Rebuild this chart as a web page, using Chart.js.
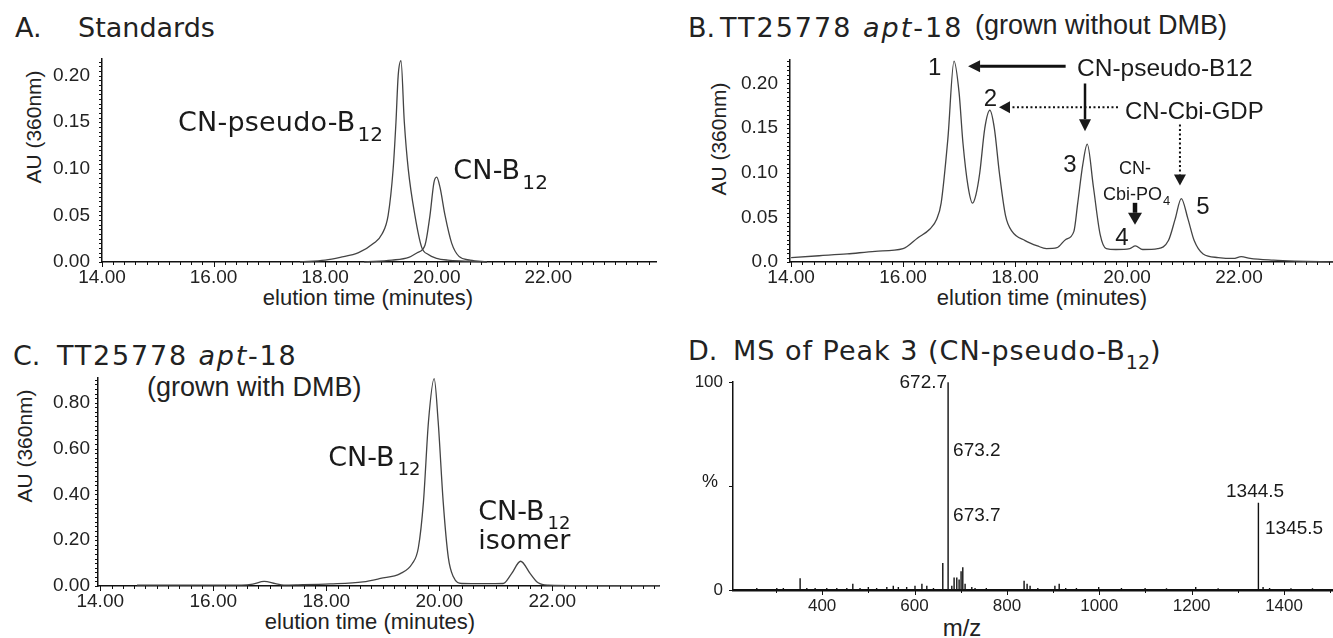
<!DOCTYPE html>
<html>
<head>
<meta charset="utf-8">
<script src="https://cdn.jsdelivr.net/npm/chart.js@4.4.1/dist/chart.umd.min.js"></script>
<style>
body { margin: 0; background: #fff; width: 1333px; height: 638px; overflow: hidden; position: relative; font-family: "Liberation Sans", Arial, sans-serif; color: #222; }
canvas { position: absolute; }
.t { position: absolute; white-space: nowrap; line-height: 1; }
.dj { font-family: "DejaVu Sans"; font-size: 27px; }
.ls { font-family: "Liberation Sans"; font-size: 27px; }
.sb { font-size: 19px; position: relative; top: 9px; letter-spacing: 0; }
.yt { position: absolute; white-space: nowrap; line-height: 1; font-size: 21px; transform: translate(-50%, -50%) rotate(-90deg); }
.xt { position: absolute; white-space: nowrap; line-height: 1; font-size: 22px; transform: translate(-50%, -50%); }
</style>
</head>
<body>
<div class="t dj" style="left:15px;top:14px">A.</div>
<div class="t dj" style="left:78px;top:14px">Standards</div>
<div class="t dj" style="left:688px;top:14px">B.</div>
<div class="t dj" style="left:720px;top:14px;letter-spacing:2px">TT25778 <i>apt</i>-18</div>
<div class="t ls" style="left:975px;top:12px">(grown without DMB)</div>
<div class="t dj" style="left:13px;top:342px">C.</div>
<div class="t dj" style="left:57px;top:342px;letter-spacing:1.8px">TT25778 <i>apt</i>-18</div>
<div class="t ls" style="left:147px;top:374px">(grown with DMB)</div>
<div class="t dj" style="left:688px;top:337px">D.</div>
<div class="t dj" style="left:733px;top:337px;letter-spacing:1px">MS of Peak 3 (CN-pseudo-B<span class="sb">12</span>)</div>

<div class="yt" style="left:33px;top:127px">AU (360nm)</div>
<div class="yt" style="left:718px;top:139px">AU (360nm)</div>
<div class="yt" style="left:24px;top:446px">AU (360nm)</div>
<div class="xt" style="left:368px;top:298px">elution time (minutes)</div>
<div class="xt" style="left:1042px;top:298px">elution time (minutes)</div>
<div class="xt" style="left:370px;top:622px">elution time (minutes)</div>
<div class="xt" style="left:962px;top:628px;font-size:24px">m/z</div>

<canvas id="chartA"></canvas>
<canvas id="chartB"></canvas>
<canvas id="chartC"></canvas>
<canvas id="chartD"></canvas>

<script>
// A. standards: CN-pseudo-B12 and CN-B12 traces
const stdPseudoTime = [17.55, 18.0, 18.27, 18.6, 18.87, 19.02, 19.13, 19.22, 19.27, 19.31, 19.36, 19.42, 19.49, 19.61, 19.73, 19.85, 20.0, 20.2, 20.5, 20.9];
const stdPseudoAU   = [0.0, 0.002, 0.005, 0.01, 0.02, 0.03, 0.05, 0.10, 0.15, 0.20, 0.216, 0.15, 0.10, 0.05, 0.016, 0.008, 0.004, 0.002, 0.001, 0.0];
const stdB12Time = [18.7, 19.2, 19.5, 19.65, 19.79, 19.88, 19.95, 20.0, 20.06, 20.15, 20.27, 20.4, 20.6, 20.9];
const stdB12AU   = [0.0, 0.002, 0.005, 0.01, 0.018, 0.05, 0.085, 0.091, 0.08, 0.05, 0.02, 0.006, 0.002, 0.0];

// B. TT25778 apt-18 grown without DMB
const noDmbTime = [14.0, 14.5, 15.0, 15.5, 16.0, 16.26, 16.48, 16.6, 16.68, 16.8, 16.91, 17.0, 17.07, 17.16, 17.24, 17.3, 17.37, 17.46, 17.55, 17.63, 17.72, 17.83, 17.95, 18.18, 18.4, 18.56, 18.75, 18.9, 19.05, 19.12, 19.21, 19.29, 19.4, 19.52, 19.63, 19.8, 20.05, 20.15, 20.28, 20.55, 20.74, 20.86, 20.97, 21.09, 21.2, 21.36, 21.63, 21.9, 22.04, 22.2, 22.62, 23.0, 23.68];
const noDmbAU   = [0.005, 0.007, 0.009, 0.012, 0.015, 0.027, 0.037, 0.048, 0.066, 0.138, 0.225, 0.19, 0.133, 0.085, 0.066, 0.075, 0.10, 0.15, 0.17, 0.15, 0.10, 0.052, 0.034, 0.024, 0.018, 0.015, 0.016, 0.025, 0.034, 0.066, 0.109, 0.132, 0.084, 0.031, 0.015, 0.014, 0.015, 0.018, 0.014, 0.015, 0.024, 0.048, 0.071, 0.048, 0.024, 0.009, 0.005, 0.004, 0.006, 0.004, 0.002, 0.001, 0.0];

// C. TT25778 apt-18 grown with DMB
const dmbTime = [14.65, 15.5, 16.5, 16.7, 16.9, 17.1, 17.25, 17.5, 18.07, 18.65, 18.96, 19.31, 19.52, 19.63, 19.72, 19.81, 19.91, 19.98, 20.07, 20.16, 20.25, 20.4, 20.8, 21.13, 21.28, 21.44, 21.61, 21.75, 21.93, 22.5, 23.9];
const dmbAU   = [0.004, 0.004, 0.004, 0.008, 0.02, 0.01, 0.004, 0.005, 0.009, 0.018, 0.033, 0.054, 0.097, 0.167, 0.366, 0.72, 0.905, 0.72, 0.366, 0.125, 0.04, 0.011, 0.01, 0.011, 0.054, 0.108, 0.054, 0.014, 0.004, 0.002, 0.002];

// D. mass spectrum of peak 3
const msMz = [258.5, 301.8, 316, 352.3, 366.8, 384.8, 410, 431.7, 453.4, 466.4, 482, 500, 518, 540, 554, 565, 583, 601, 616, 626.6, 641, 661.2, 672.7, 680.7, 685.7, 691.5, 696.5, 700.8, 704.5, 709.5, 724, 731, 755.4, 837.2, 843.7, 850.2, 866.9, 903.9, 913.2, 927.3, 950.5, 998.7, 1048, 1099.2, 1145.5, 1208.8, 1257.3, 1344.5, 1354.6, 1368.7, 1415, 1461.6];
const msIntensity = [1, 1, 1, 5.7, 1, 1, 1, 1, 1, 3, 1, 1.5, 1, 1.5, 2, 1.5, 1.5, 2, 3, 2, 1, 13, 100, 2, 6, 6, 5, 9, 11, 3, 1.5, 1, 1, 4.5, 3, 2, 1, 2, 3, 1, 1, 1.5, 1, 1, 0.8, 1.5, 0.8, 42, 1.5, 1, 0.8, 0.8];

// tick values and labels
const timeTicks = [14, 16, 18, 20, 22];
const auTicksA = [0, 0.05, 0.10, 0.15, 0.20];
const auLabelsA = ['0.00', '0.05', '0.10', '0.15', '0.20'];
const auLabelsB = ['0.0', '0.05', '0.10', '0.15', '0.20'];
const auTicksC = [0, 0.2, 0.4, 0.6, 0.8];
const auLabelsC = ['0.00', '0.20', '0.40', '0.60', '0.80'];
const mzTicks = [400, 600, 800, 1000, 1200, 1400];
const pctTicks = [0, 100];

const ink = '#444';
const axisInk = '#111';
const lib = '"Liberation Sans"';
const dv = '"DejaVu Sans"';

function pts(xs, ys) { return xs.map((x, i) => ({ x: x, y: ys[i] })); }

function sticks(mz, h, lo, hi) {
    const out = [{ x: lo, y: 0 }];
    mz.forEach((m, i) => { out.push({ x: m, y: 0 }, { x: m, y: h[i] }, { x: m, y: 0 }); });
    out.push({ x: hi, y: 0 });
    return out;
}

// small ticks along both axes, like the instrument printout
const minorTicks = {
    id: 'minorTicks',
    afterDraw(chart, args, o) {
        const ctx = chart.ctx, xs = chart.scales.x, ys = chart.scales.y;
        ctx.save();
        ctx.strokeStyle = axisInk;
        ctx.lineWidth = 1;
        ctx.beginPath();
        if (o.xStep) {
            const n = Math.floor((xs.max - o.xFrom) / o.xStep + 1e-6);
            for (let i = 0; i <= n; i++) {
                const v = o.xFrom + i * o.xStep;
                if (v < xs.min) continue;
                const px = Math.round(xs.getPixelForValue(v)) + 0.5;
                const major = o.xMajor && o.xMajor.some(m => Math.abs(m - v) < 1e-6);
                ctx.moveTo(px, ys.bottom);
                ctx.lineTo(px, ys.bottom + (major ? o.xLen + 2 : o.xLen));
            }
        }
        if (o.yStep) {
            const n = Math.floor((ys.max - ys.min) / o.yStep + 1e-6);
            for (let i = 0; i <= n; i++) {
                const py = Math.round(ys.getPixelForValue(ys.min + i * o.yStep)) + 0.5;
                ctx.moveTo(xs.left, py);
                ctx.lineTo(xs.left - o.yLen, py);
            }
        }
        ctx.stroke();
        ctx.restore();
    }
};

// labels and arrows placed in data units
const notes = {
    id: 'notes',
    afterDraw(chart, args, o) {
        const ctx = chart.ctx, xs = chart.scales.x, ys = chart.scales.y;
        ctx.save();
        ctx.fillStyle = '#1a1a1a';
        ctx.strokeStyle = '#111';
        (o.items || []).forEach(it => {
            if (it.from) {
                const x1 = xs.getPixelForValue(it.from[0]), y1 = ys.getPixelForValue(it.from[1]);
                const x2 = xs.getPixelForValue(it.to[0]), y2 = ys.getPixelForValue(it.to[1]);
                const a = Math.atan2(y2 - y1, x2 - x1);
                const hl = it.head || 11, hw = it.hw || 6;
                const bx = x2 - hl * Math.cos(a), by = y2 - hl * Math.sin(a);
                ctx.lineWidth = it.w || 2;
                ctx.setLineDash(it.dash || []);
                ctx.beginPath();
                ctx.moveTo(x1, y1);
                ctx.lineTo(bx, by);
                ctx.stroke();
                ctx.setLineDash([]);
                ctx.beginPath();
                ctx.moveTo(x2, y2);
                ctx.lineTo(bx + hw * Math.sin(a), by - hw * Math.cos(a));
                ctx.lineTo(bx - hw * Math.sin(a), by + hw * Math.cos(a));
                ctx.closePath();
                ctx.fill();
                return;
            }
            const size = it.size || 24;
            const fam = it.family || lib;
            ctx.font = size + 'px ' + fam;
            ctx.letterSpacing = (it.ls || 0) + 'px';
            const w = ctx.measureText(it.text).width;
            let sw = 0;
            if (it.sub) {
                ctx.font = it.subSize + 'px ' + fam;
                sw = ctx.measureText(it.sub).width + (it.subGap || 1);
                ctx.font = size + 'px ' + fam;
            }
            let x = xs.getPixelForValue(it.at[0]);
            const y = ys.getPixelForValue(it.at[1]) + 0.36 * size;
            if (it.align === 'center') x -= (w + sw) / 2;
            if (it.align === 'right') x -= (w + sw);
            ctx.textAlign = 'left';
            ctx.textBaseline = 'alphabetic';
            ctx.fillText(it.text, x, y);
            if (it.sub) {
                ctx.font = it.subSize + 'px ' + fam;
                ctx.fillText(it.sub, x + w + (it.subGap || 1), y + it.subDrop);
            }
            ctx.letterSpacing = '0px';
        });
        ctx.restore();
    }
};

function buildChart(id, box, datasets, xr, yr, xTicks, xLabel, yTicks, yLabel, tickOpt, ticksCfg, items) {
    const cv = document.getElementById(id);
    cv.width = box.w;
    cv.height = box.h;
    cv.style.left = box.x + 'px';
    cv.style.top = box.y + 'px';
    return new Chart(cv, {
        type: 'line',
        data: { datasets: datasets },
        options: {
            responsive: false,
            animation: false,
            events: [],
            layout: { autoPadding: false, padding: { top: box.pt, left: 0, right: 0, bottom: 0 } },
            elements: { point: { radius: 0 } },
            plugins: {
                legend: { display: false },
                tooltip: { enabled: false },
                minorTicks: ticksCfg,
                notes: { items: items }
            },
            scales: {
                x: {
                    type: 'linear', min: xr[0], max: xr[1],
                    afterFit: s => { s.height = box.hx; },
                    afterBuildTicks: s => { s.ticks = xTicks.map(v => ({ value: v })); },
                    grid: { display: false, drawTicks: false },
                    border: { display: true, color: axisInk, width: tickOpt.xBorder || 1.5 },
                    ticks: { padding: tickOpt.xPad, color: '#222', font: { family: 'Liberation Sans', size: tickOpt.xSize }, maxRotation: 0, autoSkip: false, callback: (v, i) => xLabel(v, i) }
                },
                y: {
                    type: 'linear', min: yr[0], max: yr[1],
                    afterFit: s => { s.width = box.ly; },
                    afterBuildTicks: s => { s.ticks = yTicks.map(v => ({ value: v })); },
                    grid: { display: false, drawTicks: false },
                    border: { display: true, color: axisInk, width: 1.5 },
                    ticks: { padding: tickOpt.yPad, color: '#222', font: { family: 'Liberation Sans', size: tickOpt.ySize }, autoSkip: false, callback: (v, i) => yLabel(v, i) }
                }
            }
        },
        plugins: [minorTicks, notes]
    });
}

function trace(t, v) {
    return { data: pts(t, v), borderColor: ink, borderWidth: 1.3, pointRadius: 0, fill: false, cubicInterpolationMode: 'monotone', clip: false };
}

const timeLabel = v => v.toFixed(2);

// Panel A
buildChart('chartA', { x: 2, y: 35, w: 655, h: 277, pt: 14, ly: 100, hx: 50 },
    [trace(stdPseudoTime, stdPseudoAU), trace(stdB12Time, stdB12AU)],
    [14, 23.95], [0, 0.2185], timeTicks, timeLabel, auTicksA, (v, i) => auLabelsA[i],
    { xPad: 4, xSize: 19, yPad: 12, ySize: 19 },
    { xFrom: 14, xStep: 0.2, xLen: 3, xMajor: timeTicks, yStep: 0.005, yLen: 3 },
    [
        { at: [15.363, 0.1508], text: 'CN-pseudo-B', family: dv, size: 27, ls: 0.2, sub: '12', subSize: 20, subDrop: 10, subGap: 2 },
        { at: [20.296, 0.0995], text: 'CN-B', family: dv, size: 27, ls: 0.2, sub: '12', subSize: 20, subDrop: 10, subGap: 2 }
    ]);

// Panel B
buildChart('chartB', { x: 690, y: 36, w: 643, h: 276, pt: 14, ly: 100, hx: 50 },
    [trace(noDmbTime, noDmbAU)],
    [13.98, 23.68], [0, 0.227], timeTicks, timeLabel, auTicksA, (v, i) => auLabelsB[i],
    { xPad: 4, xSize: 19, yPad: 12, ySize: 19 },
    { xFrom: 14, xStep: 0.2, xLen: 3, xMajor: timeTicks, yStep: 0.005, yLen: 3 },
    [
        { at: [16.566, 0.2193], text: '1', size: 24, align: 'center' },
        { from: [18.904, 0.2193], to: [17.161, 0.2193], w: 3, head: 12, hw: 6 },
        { at: [19.107, 0.2183], text: 'CN-pseudo-B12', size: 24.5 },
        { from: [19.25, 0.2], to: [19.25, 0.1465], w: 2.5, head: 12, hw: 6 },
        { at: [17.5625, 0.184], text: '2', size: 24, align: 'center' },
        { from: [19.839, 0.1733], to: [17.714, 0.1733], w: 2, dash: [2, 2.5], head: 11, hw: 6 },
        { at: [19.964, 0.170], text: 'CN-Cbi-GDP', size: 24 },
        { from: [20.946, 0.154], to: [20.946, 0.0856], w: 2, dash: [2, 2.5], head: 11, hw: 6 },
        { at: [18.982, 0.111], text: '3', size: 24, align: 'center' },
        { at: [20.143, 0.106], text: 'CN-', size: 18, align: 'center' },
        { at: [19.571, 0.077], text: 'Cbi-PO', size: 18, sub: '4', subSize: 13, subDrop: 5 },
        { from: [20.143, 0.0663], to: [20.143, 0.0417], w: 4.5, head: 12, hw: 7 },
        { at: [19.911, 0.0289], text: '4', size: 24, align: 'center' },
        { at: [21.357, 0.0631], text: '5', size: 24, align: 'center' }
    ]);

// Panel C
buildChart('chartC', { x: 2, y: 358, w: 658, h: 278, pt: 14, ly: 96, hx: 50 },
    [trace(dmbTime, dmbAU)],
    [13.96, 23.907], [0, 0.9106], timeTicks, timeLabel, auTicksC, (v, i) => auLabelsC[i],
    { xPad: 4, xSize: 19, yPad: 8, ySize: 19 },
    { xFrom: 14, xStep: 0.2, xLen: 3, xMajor: timeTicks, yStep: 0.02, yLen: 3 },
    [
        { at: [18.035, 0.566], text: 'CN-B', family: dv, size: 27, sub: '12', subSize: 18, subDrop: 9, subGap: 3 },
        { at: [20.69, 0.332], text: 'CN-B', family: dv, size: 27, sub: '12', subSize: 18, subDrop: 9, subGap: 3 },
        { at: [20.69, 0.204], text: 'isomer', family: dv, size: 27 }
    ]);

// Panel D
buildChart('chartD', { x: 673, y: 362, w: 660, h: 268, pt: 14, ly: 60, hx: 40 },
    [{ data: sticks(msMz, msIntensity, 207, 1506), borderColor: '#111', borderWidth: 1.4, pointRadius: 0, fill: false, tension: 0, clip: false }],
    [207, 1506], [0, 100], mzTicks, v => String(v), pctTicks, v => String(v),
    { xPad: 6, xSize: 17, yPad: 10, ySize: 17, xBorder: 2.5 },
    { xFrom: 300, xStep: 100, xLen: 3, xMajor: mzTicks, yStep: 50, yLen: 4 },
    [
        { at: [670.5, 100.5], text: '672.7', size: 19, align: 'right' },
        { at: [683.5, 67.8], text: '673.2', size: 19 },
        { at: [683.5, 36.4], text: '673.7', size: 19 },
        { at: [1337.3, 48.1], text: '1344.5', size: 19, align: 'center' },
        { at: [1358.9, 30.4], text: '1345.5', size: 19 },
        { at: [157.4, 52.8], text: '%', size: 18, align: 'center' }
    ]);
</script>
</body>
</html>
